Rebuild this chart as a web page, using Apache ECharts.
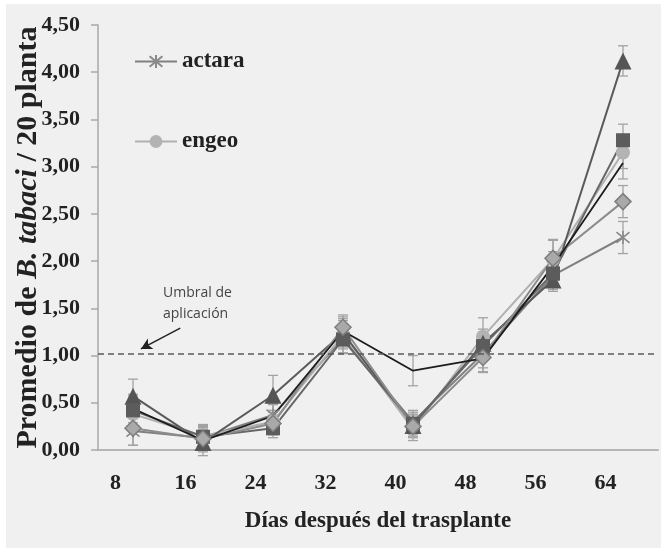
<!DOCTYPE html>
<html>
<head>
<meta charset="utf-8">
<script src="https://cdn.jsdelivr.net/npm/echarts@6/dist/echarts.min.js"></script>
<style>
  html, body { margin: 0; padding: 0; background: #ffffff; }
  #chart { position: absolute; left: 6px; top: 4px; width: 655px; height: 544px; background: #f0f0f0; }
</style>
</head>
<body>
<div id="chart"></div>
<script>
// days after transplant (x positions of the samples)
const days = [10, 18, 26, 34, 42, 50, 58, 66];
const xTickLabels = [8, 16, 24, 32, 40, 48, 56, 64];

// mean B. tabaci per 20 plants
const actara = [0.20, 0.13, 0.37, 1.18, 0.30, 1.02, 1.85, 2.25];
const engeo = [0.38, 0.15, 0.30, 1.22, 0.22, 1.20, 2.02, 3.15];
const triSeries = [0.57, 0.08, 0.58, 1.24, 0.26, 1.13, 1.80, 4.12];
const squareSeries = [0.42, 0.14, 0.23, 1.17, 0.28, 1.10, 1.87, 3.28];
const diamondSeries = [0.23, 0.12, 0.28, 1.30, 0.25, 0.98, 2.03, 2.63];
const blackSeries = [0.44, 0.10, 0.36, 1.26, 0.84, 0.97, 1.95, 3.04];

// error bar half widths
const actaraErr = [0.15, 0.12, 0.12, 0.15, 0.12, 0.15, 0.15, 0.17];
const engeoErr = [0.15, 0.12, 0.12, 0.15, 0.12, 0.20, 0.20, 0.17];
const triErr = [0.18, 0.14, 0.21, 0.15, 0.12, 0.15, 0.12, 0.16];
const squareErr = [0.15, 0.12, 0.10, 0.15, 0.12, 0.15, 0.12, 0.17];
const diamondErr = [0.18, 0.12, 0.12, 0.13, 0.12, 0.15, 0.20, 0.17];
const blackErr = [0.15, 0.12, 0.12, 0.15, 0.16, 0.15, 0.15, 0.17];

const threshold = 1.02;
const arrowFrom = [15.4, 1.29];
const arrowTo = [10.9, 1.07];

const serif = '"Liberation Serif", "DejaVu Serif", serif';
const asterisk = 'path://M0,0 L10,10 M10,0 L0,10 M5,-1 L5,11';

const chart = echarts.init(document.getElementById('chart'), null, { renderer: 'canvas' });

function pairs(vals) {
  return days.map((d, i) => [d, vals[i]]);
}

function errData(vals, errs) {
  return days.map((d, i) => [d, vals[i] - errs[i], vals[i] + errs[i]]);
}

function errorSeries(vals, errs) {
  return {
    type: 'custom',
    silent: true,
    z: 1,
    data: errData(vals, errs),
    encode: { x: 0, y: [1, 2] },
    renderItem: (params, api) => {
      const lo = api.coord([api.value(0), api.value(1)]);
      const hi = api.coord([api.value(0), api.value(2)]);
      const w = 5;
      const style = { stroke: '#a3a3a3', lineWidth: 1.3 };
      return {
        type: 'group',
        children: [
          { type: 'line', shape: { x1: lo[0], y1: lo[1], x2: hi[0], y2: hi[1] }, style },
          { type: 'line', shape: { x1: lo[0] - w, y1: lo[1], x2: lo[0] + w, y2: lo[1] }, style },
          { type: 'line', shape: { x1: hi[0] - w, y1: hi[1], x2: hi[0] + w, y2: hi[1] }, style },
        ],
      };
    },
  };
}

function lineSeries(name, vals, opts) {
  return Object.assign({
    name,
    type: 'line',
    z: 3,
    data: pairs(vals),
    showSymbol: true,
    lineStyle: { width: 2, color: opts.lineColor },
    itemStyle: opts.itemStyle,
    symbol: opts.symbol,
    symbolSize: opts.symbolSize,
  }, opts.extra || {});
}

chart.setOption({
  backgroundColor: 'transparent',
  animation: false,
  grid: { left: 92, right: 3, top: 21, bottom: 98, outerBoundsMode: 'none' },
  legend: {
    data: ['actara', 'engeo'],
    orient: 'vertical',
    left: 123,
    top: 41,
    itemWidth: 42,
    itemHeight: 16,
    itemGap: 57,
    textStyle: { fontFamily: serif, fontWeight: 'bold', fontSize: 23, color: '#222222' },
  },
  xAxis: {
    type: 'value',
    min: 6,
    max: 70,
    name: 'Días después del trasplante',
    nameLocation: 'middle',
    nameGap: 60,
    nameTextStyle: { fontFamily: serif, fontWeight: 'bold', fontSize: 23, color: '#222222' },
    axisLine: { lineStyle: { color: '#b5b5b5', width: 2 } },
    axisTick: { show: false },
    splitLine: { show: false },
    axisLabel: {
      customValues: xTickLabels,
      margin: 22,
      fontFamily: serif,
      fontWeight: 'bold',
      fontSize: 22,
      color: '#222222',
    },
  },
  yAxis: {
    type: 'value',
    min: 0,
    max: 4.5,
    interval: 0.5,
    name: 'Promedio de {i|B. tabaci} / 20 planta',
    nameLocation: 'middle',
    nameGap: 55,
    nameMoveOverlap: false,
    nameTextStyle: {
      fontFamily: serif, fontWeight: 'bold', fontSize: 30, color: '#222222',
      rich: { i: { fontFamily: serif, fontWeight: 'bold', fontStyle: 'italic', fontSize: 30, color: '#222222' } },
    },
    axisLine: { show: true, lineStyle: { color: '#a8a8a8', width: 1.5 } },
    axisTick: { show: true, length: 7, lineStyle: { color: '#a8a8a8', width: 1.5 } },
    splitLine: { show: false },
    axisLabel: {
      margin: 18,
      fontFamily: serif,
      fontWeight: 'bold',
      fontSize: 22,
      color: '#222222',
      formatter: (v) => v.toFixed(2).replace('.', ','),
    },
  },
  graphic: [
    {
      type: 'text',
      left: 157,
      top: 279,
      style: {
        text: 'Umbral de\naplicación',
        font: '14px "Open Sans", "Liberation Sans", sans-serif',
        fill: '#444444',
        align: 'center',
        lineHeight: 21,
      },
    },
  ],
  series: [
    errorSeries(actara, actaraErr),
    errorSeries(engeo, engeoErr),
    errorSeries(triSeries, triErr),
    errorSeries(squareSeries, squareErr),
    errorSeries(diamondSeries, diamondErr),
    errorSeries(blackSeries, blackErr),
    lineSeries('actara', actara, {
      lineColor: '#808080',
      symbol: asterisk,
      symbolSize: 13,
      itemStyle: { color: 'rgba(0,0,0,0)', borderColor: '#8a8a8a', borderWidth: 1.6 },
    }),
    lineSeries('engeo', engeo, {
      lineColor: '#b0b0b0',
      symbol: 'circle',
      symbolSize: 14,
      itemStyle: { color: '#b3b3b3' },
    }),
    lineSeries('T3', triSeries, {
      lineColor: '#5a5a5a',
      symbol: 'triangle',
      symbolSize: 17,
      itemStyle: { color: '#555555' },
    }),
    lineSeries('T4', squareSeries, {
      lineColor: '#666666',
      symbol: 'rect',
      symbolSize: 14,
      itemStyle: { color: '#5c5c5c' },
    }),
    lineSeries('T5', diamondSeries, {
      lineColor: '#8c8c8c',
      symbol: 'diamond',
      symbolSize: 16,
      itemStyle: { color: '#a9a9a9', borderColor: '#7d7d7d', borderWidth: 1.5 },
    }),
    lineSeries('Testigo', blackSeries, {
      lineColor: '#1c1c1c',
      symbol: 'none',
      symbolSize: 0,
      itemStyle: { color: '#1c1c1c' },
      extra: {
        lineStyle: { width: 1.8, color: '#1c1c1c' },
        markLine: {
          silent: true,
          symbol: ['none', 'none'],
          label: { show: false },
          data: [
            [
              { coord: [6, threshold], lineStyle: { color: '#5a5a5a', type: [6, 4], width: 1.5 } },
              { coord: [70, threshold] },
            ],
            [
              { coord: arrowFrom, symbol: 'none', lineStyle: { color: '#222222', type: 'solid', width: 1.5 } },
              { coord: arrowTo, symbol: 'arrow', symbolSize: [9, 11] },
            ],
          ],
        },
      },
    }),
  ],
});
</script>
</body>
</html>
